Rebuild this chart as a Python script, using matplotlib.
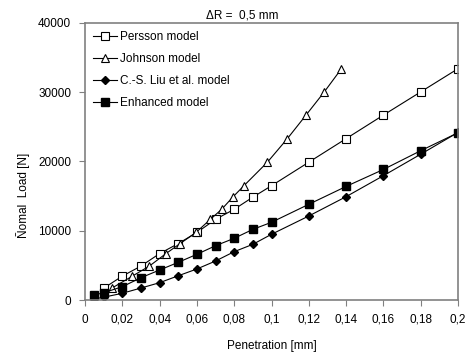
import matplotlib
matplotlib.use("Agg")
import matplotlib.pyplot as plt
from matplotlib.ticker import FixedLocator, FixedFormatter

plt.rcParams['font.family'] = ['Liberation Sans', 'DejaVu Sans']

# ========== DATA ========== #
pen = [0.005, 0.01, 0.02, 0.03, 0.04, 0.05, 0.06, 0.07, 0.08, 0.09, 0.1,
       0.12, 0.14, 0.16, 0.18, 0.2]

persson_x = pen[1:]
persson_y = [1700, 3450, 4900, 6700, 8150, 9750, 11650, 13100, 14850, 16500,
             19900, 23300, 26700, 30050, 33400]

johnson_x = [0.0143, 0.0254, 0.0345, 0.0434, 0.051, 0.0595, 0.0672, 0.0733,
             0.0792, 0.0852, 0.0978, 0.1085, 0.1185, 0.1283, 0.1375]
johnson_y = persson_y

liu_y = [150, 400, 970, 1730, 2500, 3500, 4480, 5630, 6980, 8040, 9490,
         12130, 14920, 17950, 21050, 24200]

enhanced_y = [720, 1050, 1920, 3220, 4330, 5440, 6600, 7840, 8910, 10200,
              11220, 13820, 16400, 18850, 21560, 24150]

x_ticks = [0, 0.02, 0.04, 0.06, 0.08, 0.1, 0.12, 0.14, 0.16, 0.18, 0.2]
x_labels = ["0", "0,02", "0,04", "0,06", "0,08", "0,1", "0,12", "0,14",
            "0,16", "0,18", "0,2"]
y_ticks = [0, 10000, 20000, 30000, 40000]

# ========== PLOT ========== #
fig = plt.figure(figsize=(4.71, 3.56), dpi=100)
ax = fig.add_axes([0.1805, 0.1573, 0.7919, 0.7781])

lw = 0.8
ax.plot(persson_x, persson_y, color='black', lw=lw, marker='s', ms=5.5,
        mfc='white', mec='black', mew=0.8, label='Persson model')
ax.plot(johnson_x, johnson_y, color='black', lw=lw, marker='^', ms=5.5,
        mfc='white', mec='black', mew=0.8, label='Johnson model')
ax.plot(pen, liu_y, color='black', lw=lw, marker='D', ms=3.8,
        mfc='black', mec='black', label='C.-S. Liu et al. model')
ax.plot(pen, enhanced_y, color='black', lw=lw, marker='s', ms=5.5,
        mfc='black', mec='black', label='Enhanced model')

ax.set_xlim(0, 0.2)
ax.set_ylim(0, 40000)
ax.xaxis.set_major_locator(FixedLocator(x_ticks))
ax.xaxis.set_major_formatter(FixedFormatter(x_labels))
ax.set_yticks(y_ticks)
ax.set_yticklabels([str(v) for v in y_ticks])

for s in ax.spines.values():
    s.set_color('#808080')
    s.set_linewidth(1.2)
ax.tick_params(axis='both', direction='out', length=4, width=0.8,
               color='#808080', labelsize=8.5, pad=6)

ax.set_xlabel("Penetration [mm]", fontsize=8.5, labelpad=10)
fig.text(0.048, 0.45, "Ñomal  Load [N]", rotation=90, fontsize=8.5,
         ha='center', va='center')
fig.text(0.514, 0.957, "ΔR =  0,5 mm", fontsize=8.5, ha='center', va='center')

ax.legend(loc='upper left', frameon=False, fontsize=8.5, handlelength=2.0,
          handletextpad=0.3, labelspacing=0.85, borderaxespad=0.3,
          bbox_to_anchor=(0.0, 1.0))

fig.savefig("out.png", dpi=100)
